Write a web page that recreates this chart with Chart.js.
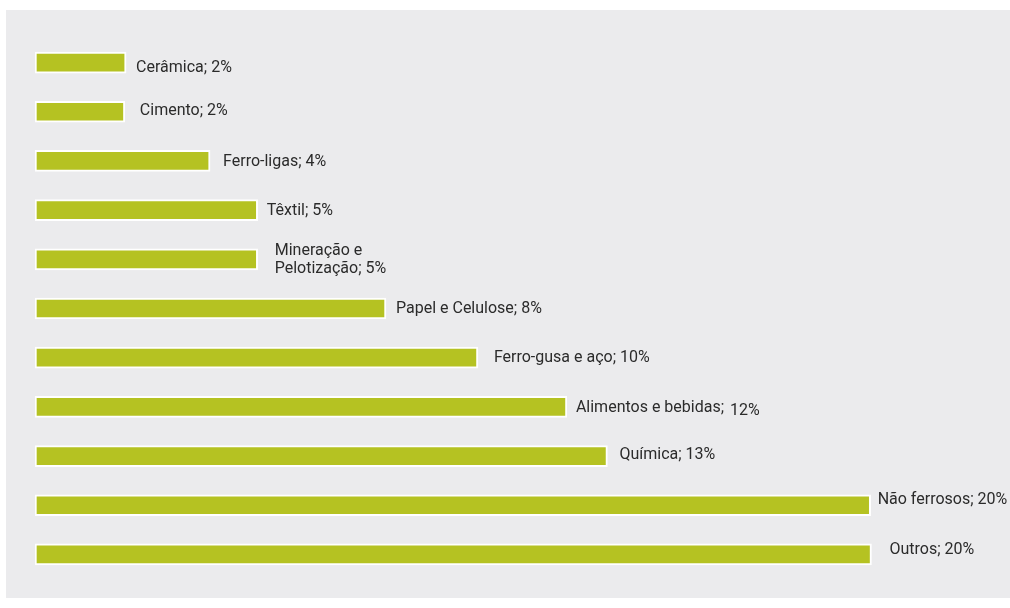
<!DOCTYPE html>
<html>
<head>
<meta charset="utf-8">
<script src="https://cdn.jsdelivr.net/npm/chart.js@4"></script>
<style>
  body { margin: 0; background: #ffffff; }
  #wrap { position: absolute; left: 6px; top: 10px; width: 1004px; height: 588px; background: #ebebed; }
</style>
</head>
<body>
<div id="wrap"><canvas id="myChart"></canvas></div>
<script>
var categories = ['Cerâmica', 'Cimento', 'Ferro-ligas', 'Têxtil', 'Mineração e Pelotização',
  'Papel e Celulose', 'Ferro-gusa e aço', 'Alimentos e bebidas', 'Química', 'Não ferrosos', 'Outros'];
var shares = [2.18, 2.15, 4.19, 5.33, 5.33, 8.40, 10.60, 12.73, 13.70, 20.00, 20.02];
var shareLabels = ['2%', '2%', '4%', '5%', '5%', '8%', '10%', '12%', '13%', '20%', '20%'];

// hand-placed label lines (text, gap after bar end, shift from bar centre)
var labelLines = [
  [['Cerâmica; 2%', 10, 5]],
  [['Cimento; 2%', 15, -1]],
  [['Ferro-ligas; 4%', 13, 1]],
  [['Têxtil; 5%', 9, 1]],
  [['Mineração e', 17, -8], ['Pelotização; 5%', 17, 10]],
  [['Papel e Celulose; 8%', 10, 0]],
  [['Ferro-gusa e aço; 10%', 16, 0]],
  [['Alimentos e bebidas;', 9, 1], ['12%', 163, 4]],
  [['Química; 13%', 12, -1]],
  [['Não ferrosos; 20%', 7, -5]],
  [['Outros; 20%', 18, -4]]
];

const barLabels = {
  id: 'barLabels',
  afterDatasetsDraw(chart) {
    const ctx = chart.ctx;
    const meta = chart.getDatasetMeta(0);
    ctx.save();
    ctx.font = '16px Roboto';
    ctx.fillStyle = '#2b2b2b';
    ctx.textBaseline = 'middle';
    ctx.textAlign = 'left';
    meta.data.forEach(function (bar, i) {
      labelLines[i].forEach(function (ln) {
        ctx.fillText(ln[0], bar.x + ln[1], bar.y + ln[2]);
      });
    });
    ctx.restore();
  }
};

const data = {
  labels: categories,
  datasets: [{
    label: 'Participação',
    backgroundColor: '#b5c222',
    borderColor: '#ffffff',
    borderWidth: 2,
    borderSkipped: false,
    barThickness: 21,
    data: shares
  }]
};

const config = {
  type: 'bar',
  data: data,
  options: {
    indexAxis: 'y',
    responsive: true,
    maintainAspectRatio: false,
    animation: false,
    layout: { padding: { left: 29, right: 14, top: 28, bottom: 19 } },
    scales: {
      x: { display: false, min: 0, max: 23 },
      y: { display: false }
    },
    plugins: {
      legend: { display: false },
      tooltip: { enabled: false }
    }
  },
  plugins: [barLabels]
};

const myChart = new Chart(document.getElementById('myChart'), config);
</script>
</body>
</html>
